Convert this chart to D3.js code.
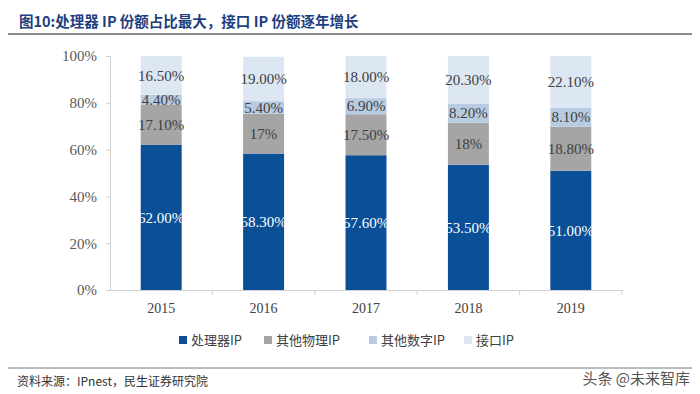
<!DOCTYPE html>
<html>
<head>
<meta charset="utf-8">
<title>IP share</title>
<style>
  body, html { margin:0px; background:#fff; }
  svg { display:block; }
</style>
<script src="https://cdn.jsdelivr.net/npm/d3@7"></script>
</head>
<body>
<svg id="chart" width="700" height="394"></svg>
<script>
// data
var years = ["2015", "2016", "2017", "2018", "2019"];
var seriesNames = ["处理器IP", "其他物理IP", "其他数字IP", "接口IP"];
var processor = [62.0, 58.3, 57.6, 53.5, 51.0];
var physical  = [17.1, 17.0, 17.5, 18.0, 18.8];
var digital   = [4.4, 5.4, 6.9, 8.2, 8.1];
var iface     = [16.5, 19.0, 18.0, 20.3, 22.1];
var labelText = [
  ["62.00%", "58.30%", "57.60%", "53.50%", "51.00%"],
  ["17.10%", "17%", "17.50%", "18%", "18.80%"],
  ["4.40%", "5.40%", "6.90%", "8.20%", "8.10%"],
  ["16.50%", "19.00%", "18.00%", "20.30%", "22.10%"]
];
var yTicks = [0, 20, 40, 60, 80, 100];
var colors = ["#0b4f97", "#a5a5a5", "#b8cbe0", "#dde7f3"];

var svg = d3.select("#chart");
var serif = "'Liberation Serif', 'Times New Roman', serif";
var cjk = "'Noto Sans CJK SC', sans-serif";

// title + rules
svg.append("text").attr("x", 19).attr("y", 27)
  .attr("font-family", cjk).attr("font-weight", "bold").attr("font-size", 14.5)
  .attr("fill", "#1d3f7f").text("图10:处理器 IP 份额占比最大，接口 IP 份额逐年增长");
svg.append("line").attr("x1", 8).attr("x2", 692).attr("y1", 34).attr("y2", 34)
  .attr("stroke", "#8c8c8c").attr("stroke-width", 2);
svg.append("line").attr("x1", 8).attr("x2", 692).attr("y1", 368).attr("y2", 368)
  .attr("stroke", "#6b7c86").attr("stroke-width", 1);

var x = d3.scaleBand().domain(years).range([110, 622]).paddingInner(0.6).paddingOuter(0.3);
var y = d3.scaleLinear().domain([0, 100]).range([290, 56]);

var rows = years.map(function(yr, i) {
  return { year: yr, a: processor[i], b: physical[i], c: digital[i], d: iface[i], i: i };
});
var stack = d3.stack().keys(["a", "b", "c", "d"])(rows);

var g = svg.append("g");
stack.forEach(function(layer, k) {
  g.selectAll(null).data(layer).enter().append("rect")
    .attr("x", function(d) { return x(d.data.year); })
    .attr("width", x.bandwidth())
    .attr("y", function(d) { return y(d[1]); })
    .attr("height", function(d) { return y(d[0]) - y(d[1]); })
    .attr("fill", colors[k]);
  g.selectAll(null).data(layer).enter().append("text")
    .attr("x", function(d) { return x(d.data.year) + x.bandwidth() / 2; })
    .attr("y", function(d) { return y((d[0] + d[1]) / 2); })
    .attr("dy", "0.35em")
    .attr("text-anchor", "middle")
    .attr("font-family", serif).attr("font-size", 15)
    .attr("fill", k === 0 ? "#ffffff" : "#404040")
    .text(function(d) { return labelText[k][d.data.i]; });
});

// y axis
var yAxis = svg.append("g").attr("transform", "translate(110,0)")
  .call(d3.axisLeft(y).tickValues(yTicks).tickSize(4).tickPadding(9)
    .tickFormat(function(d) { return d + "%"; }));
yAxis.select(".domain").attr("stroke", "#d0d0d0");
yAxis.selectAll(".tick line").attr("stroke", "#d0d0d0");
yAxis.selectAll("text").attr("font-family", serif).attr("font-size", 15).attr("fill", "#595959");

// x axis
var xAxis = svg.append("g").attr("transform", "translate(0,290)")
  .call(d3.axisBottom(x).tickSize(0).tickPadding(13));
xAxis.select(".domain").attr("stroke", "#d0d0d0");
xAxis.selectAll("text").attr("font-family", serif).attr("font-size", 14).attr("fill", "#404040");
xAxis.selectAll(null).data(years).enter().append("line")
  .attr("x1", function(d) { return x(d) + x.bandwidth() / 2 + x.step() / 2; })
  .attr("x2", function(d) { return x(d) + x.bandwidth() / 2 + x.step() / 2; })
  .attr("y1", 0).attr("y2", 5).attr("stroke", "#d0d0d0");

// legend
var legendX = [179, 264, 369, 464];
var leg = svg.append("g");
seriesNames.forEach(function(n, k) {
  leg.append("rect").attr("x", legendX[k]).attr("y", 336).attr("width", 8).attr("height", 8)
    .attr("fill", colors[k]);
  leg.append("text").attr("x", legendX[k] + 12).attr("y", 340).attr("dy", "0.35em")
    .attr("font-family", cjk).attr("font-size", 13).attr("fill", "#404040").text(n);
});

// source + watermark
svg.append("text").attr("x", 17).attr("y", 386)
  .attr("font-family", cjk).attr("font-size", 12).attr("fill", "#333").text("资料来源：IPnest，民生证券研究院");
svg.append("text").attr("x", 690).attr("y", 384).attr("text-anchor", "end")
  .attr("font-family", cjk).attr("font-size", 15).attr("fill", "#555").text("头条 @未来智库");
</script>
</body>
</html>
